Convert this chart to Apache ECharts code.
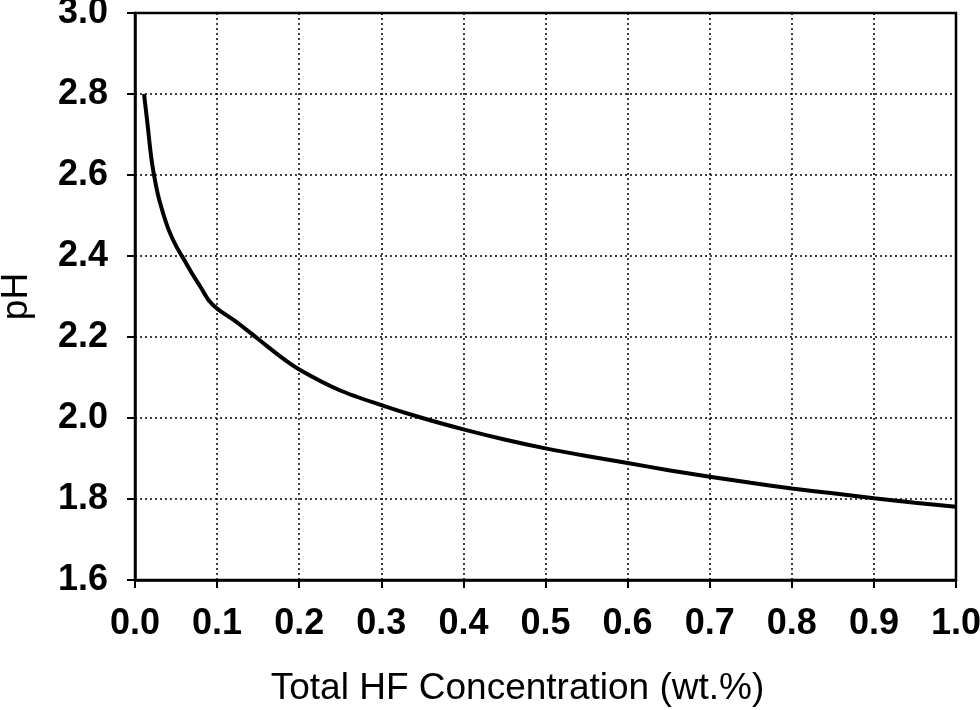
<!DOCTYPE html>
<html>
<head>
<meta charset="utf-8">
<script src="https://cdn.jsdelivr.net/npm/echarts@6/dist/echarts.min.js"></script>
<style>html,body{margin:0;padding:0;background:#fff}#c{width:980px;height:710px}</style>
</head>
<body>
<div id="c"></div>
<script>
var hfConc = [0.011, 0.015, 0.02, 0.025, 0.03, 0.04, 0.05, 0.06, 0.07, 0.08, 0.09, 0.1, 0.125, 0.15, 0.175, 0.2, 0.25, 0.3, 0.35, 0.4, 0.45, 0.5, 0.55, 0.6, 0.65, 0.7, 0.75, 0.8, 0.85, 0.9, 0.95, 1.0];
var pHValues = [2.80, 2.73, 2.64, 2.58, 2.535, 2.47, 2.425, 2.39, 2.355, 2.323, 2.29, 2.27, 2.235, 2.195, 2.155, 2.12, 2.068, 2.032, 2.0, 1.972, 1.947, 1.925, 1.906, 1.889, 1.871, 1.855, 1.84, 1.826, 1.814, 1.802, 1.791, 1.781];
var xTitle = 'Total HF Concentration (wt.%)';
var yTitle = 'pH';

var chart = echarts.init(document.getElementById('c'), null, {renderer: 'canvas'});
var font = '"Liberation Sans", Arial, sans-serif';
chart.setOption({
  animation: false,
  backgroundColor: '#fff',
  grid: {left: 135, right: 24, top: 13, bottom: 130, containLabel: false, outerBoundsMode: 'none',
    show: true, borderColor: '#000', borderWidth: 2.5, backgroundColor: 'transparent'},
  xAxis: {
    type: 'value', min: 0, max: 1, interval: 0.1,
    name: xTitle, nameLocation: 'middle', nameGap: 90,
    nameTextStyle: {fontFamily: font, fontSize: 37, color: '#000', padding: [0, 56, 0, 0]},
    axisLine: {show: true, lineStyle: {color: '#000', width: 2.5}},
    axisTick: {show: true, inside: false, length: 8, lineStyle: {color: '#000', width: 2}},
    axisLabel: {fontFamily: font, fontSize: 36, fontWeight: 'bold', color: '#000', margin: 26,
      formatter: function (v) { return v.toFixed(1); }},
    splitLine: {show: true, lineStyle: {color: '#000', width: 1.5, type: [2, 3]}}
  },
  yAxis: {
    type: 'value', min: 1.6, max: 3.0, interval: 0.2,
    name: yTitle, nameLocation: 'middle', nameGap: 100, nameRotate: 90,
    nameTextStyle: {fontFamily: font, fontSize: 37, color: '#000'},
    axisLine: {show: true, lineStyle: {color: '#000', width: 2.5}},
    axisTick: {show: true, inside: false, length: 8, lineStyle: {color: '#000', width: 2}},
    axisLabel: {fontFamily: font, fontSize: 36, fontWeight: 'bold', color: '#000', margin: 27,
      formatter: function (v) { return v.toFixed(1); }},
    splitLine: {show: true, lineStyle: {color: '#000', width: 1.5, type: [2, 3]}}
  },
  series: [{
    type: 'line',
    data: hfConc.map(function (x, i) { return [x, pHValues[i]]; }),
    showSymbol: false,
    smooth: 0.3,
    lineStyle: {color: '#000', width: 4},
    z: 5
  }]
});
</script>
</body>
</html>
